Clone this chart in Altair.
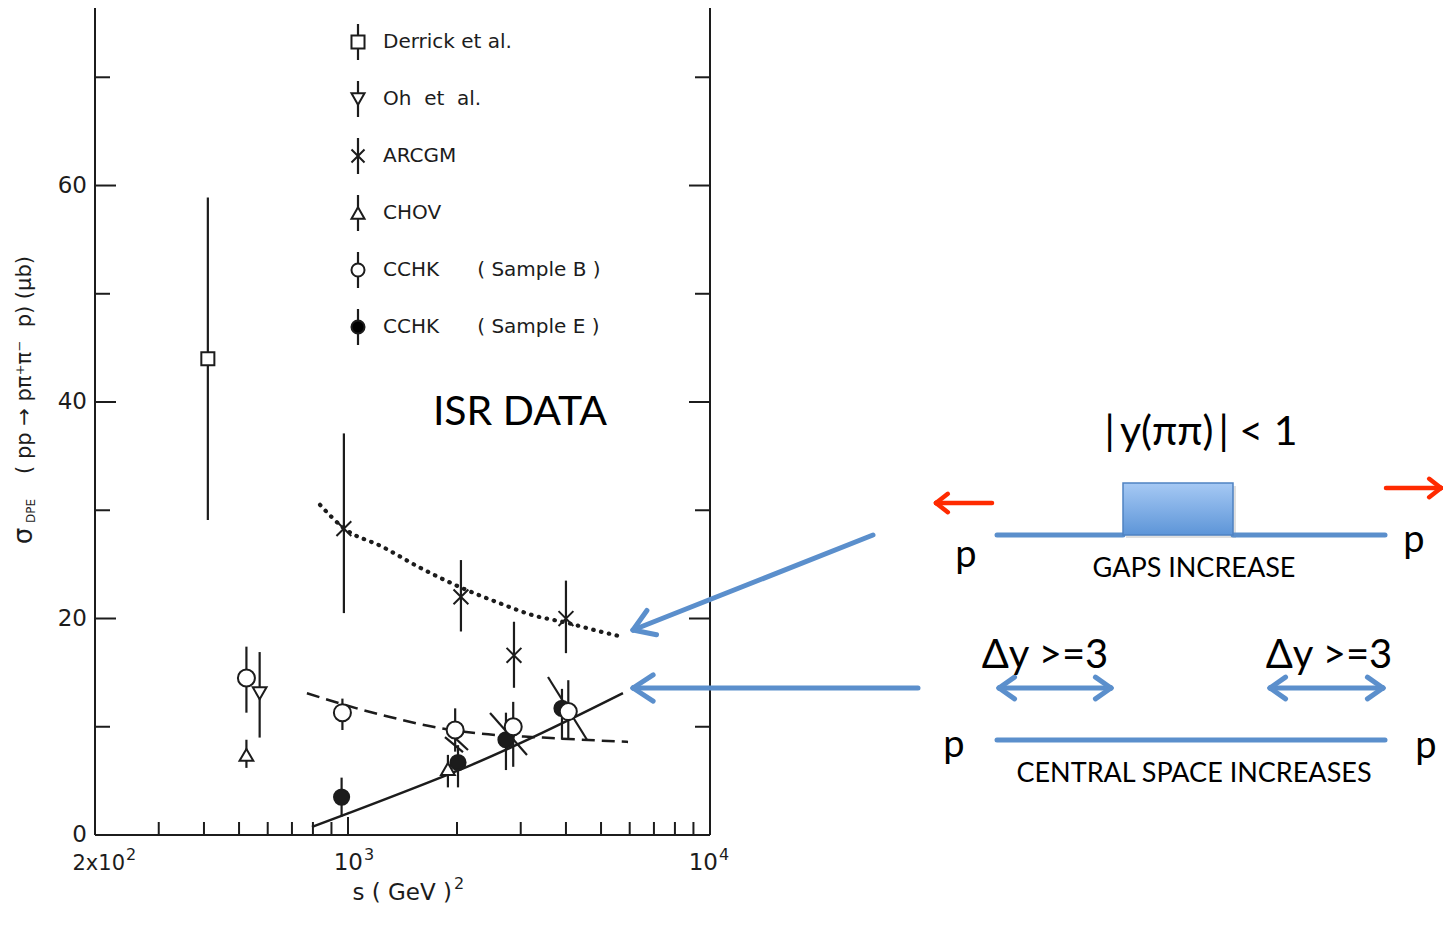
import math
import altair as alt
import pandas as pd

# ---------------- values ----------------
derrick_s = [410]
derrick_sig = [44.0]
derrick_lo = [29.1]
derrick_hi = [58.9]

oh_s = [570]
oh_sig = [13.1]
oh_lo = [9.0]
oh_hi = [16.9]

arcgm_s = [974, 2051, 2874, 4000]
arcgm_sig = [28.3, 22.0, 16.6, 20.0]
arcgm_lo = [20.5, 18.8, 13.6, 16.8]
arcgm_hi = [37.1, 25.4, 19.7, 23.5]

chov_s = [524, 1888]
chov_sig = [7.4, 6.1]
chov_lo = [6.2, 4.4]
chov_hi = [8.8, 7.4]

cchkb_s = [524, 965, 1977, 2860, 4060]
cchkb_sig = [14.5, 11.3, 9.7, 10.0, 11.4]
cchkb_lo = [11.3, 9.7, 7.7, 6.3, 8.8]
cchkb_hi = [17.4, 12.6, 11.7, 12.3, 14.3]

cchke_s = [960, 2013, 2731, 3900]
cchke_sig = [3.5, 6.7, 8.8, 11.7]
cchke_lo = [1.7, 4.4, 6.0, 8.8]
cchke_hi = [5.3, 8.3, 11.3, 13.5]

# slanted bars drawn across some points
slant_s1 = [1853, 1937, 2468, 3568]
slant_sig1 = [9.05, 9.23, 11.27, 14.6]
slant_s2 = [2078, 2145, 3122, 4573]
slant_sig2 = [7.66, 7.85, 7.39, 8.8]

# fitted curves
fit_arcgm_s = [837, 969, 1249, 1580, 2039, 2629, 3243, 4027, 4967, 5748]
fit_arcgm_sig = [30.5, 28.4, 26.6, 24.7, 22.9, 21.4, 20.3, 19.6, 18.8, 18.3]
fit_b_s = [770, 1058, 1306, 1717, 2271, 3456, 5937]
fit_b_sig = [13.1, 11.7, 10.9, 10.0, 9.4, 9.0, 8.6]
fit_e_s = [795, 1000, 1829, 2131, 3044, 5748]
fit_e_sig = [0.74, 2.0, 5.4, 6.3, 8.6, 13.1]

# axis ticks and labels
y_minor_ticks = [10, 30, 50, 70]
y_major_ticks = [20, 40, 60]
x_minor_ticks = [300, 400, 500, 600, 700, 800, 900,
                 2000, 3000, 4000, 5000, 6000, 7000, 8000, 9000]
x_major_ticks = [1000]
y_label_values = [0, 20, 40, 60]
y_label_text = ["0", "20", "40", "60"]
x_label_values = [200, 1000, 10000]
x_label_base = ["2x10", "10", "10"]
x_label_exp = ["2", "3", "4"]

NB = "\u00a0"
legend_labels = ["Derrick et al.", f"Oh{NB*2}et{NB*2}al.", "ARCGM", "CHOV",
                 f"CCHK{NB*6}( Sample B )", f"CCHK{NB*6}( Sample E )"]
legend_shapes = ["square", "triangle-down", "M-1,-1L1,1M-1,1L1,-1",
                 "triangle-up", "circle", "circle"]
legend_fills = ["white", "white", "transparent", "white", "white", "black"]

# ---------------- layout ----------------
W, H = 615, 827          # plot area
OX, OY = 95, 8           # plot origin on the page
INK = "#1c1c1c"
BLUE = "#5b8fcc"
RED = "#ff2a00"
FONT = "DejaVu Sans"

xs = alt.Scale(type="log", domain=[200, 10000], nice=False)
ys = alt.Scale(domain=[0, 76.4], nice=False, zero=False)


def X(f):
    return alt.X(f"{f}:Q", scale=xs, axis=None)


def Y(f):
    return alt.Y(f"{f}:Q", scale=ys, axis=None)


PX = lambda f: alt.X(f"{f}:Q", scale=None, axis=None)
PY = lambda f: alt.Y(f"{f}:Q", scale=None, axis=None)

layers = []
one = pd.DataFrame({"v": [0]})

# frame: left, bottom, right
layers.append(alt.Chart(one).mark_rule(color=INK, strokeWidth=2).encode(
    x=alt.value(0), y=alt.value(0), y2=alt.value(H)))
layers.append(alt.Chart(one).mark_rule(color=INK, strokeWidth=2).encode(
    x=alt.value(W), y=alt.value(0), y2=alt.value(H)))
layers.append(alt.Chart(one).mark_rule(color=INK, strokeWidth=2).encode(
    x=alt.value(0), x2=alt.value(W), y=alt.value(H)))

# inward ticks
for vals, L in ((y_minor_ticks, 15), (y_major_ticks, 21)):
    d = pd.DataFrame({"v": vals})
    layers.append(alt.Chart(d).mark_rule(color=INK, strokeWidth=2).encode(
        y=Y("v"), x=alt.value(0), x2=alt.value(L)))
    layers.append(alt.Chart(d).mark_rule(color=INK, strokeWidth=2).encode(
        y=Y("v"), x=alt.value(W - L), x2=alt.value(W)))
for vals, L in ((x_minor_ticks, 13), (x_major_ticks, 18)):
    d = pd.DataFrame({"v": vals})
    layers.append(alt.Chart(d).mark_rule(color=INK, strokeWidth=2).encode(
        x=X("v"), y=alt.value(H), y2=alt.value(H - L)))

# tick labels
layers.append(alt.Chart(pd.DataFrame({"v": y_label_values, "t": y_label_text}))
              .mark_text(align="right", baseline="middle", font=FONT, fontSize=23, color=INK)
              .encode(y=Y("v"), x=alt.value(-8), text="t:N"))
label_right_dx = [30, 15, 8]   # where each base ends relative to its tick
label_size = [21, 23, 23]
for i in range(len(x_label_values)):
    d = pd.DataFrame({"v": [x_label_values[i]], "b": [x_label_base[i]], "e": [x_label_exp[i]]})
    layers.append(alt.Chart(d).mark_text(align="right", baseline="alphabetic", font=FONT,
                                         fontSize=label_size[i], color=INK, dx=label_right_dx[i])
                  .encode(x=X("v"), y=alt.value(870 - OY), text="b:N"))
    layers.append(alt.Chart(d).mark_text(align="left", baseline="alphabetic", font=FONT,
                                         fontSize=16, color=INK, dx=label_right_dx[i] + 1)
                  .encode(x=X("v"), y=alt.value(860 - OY), text="e:N"))
# x title
layers.append(alt.Chart(one).mark_text(text="s ( GeV )", align="right", baseline="alphabetic",
                                       font=FONT, fontSize=23, color=INK)
              .encode(x=alt.value(452 - OX), y=alt.value(900 - OY)))
layers.append(alt.Chart(one).mark_text(text="2", align="left", baseline="alphabetic",
                                       font=FONT, fontSize=16, color=INK)
              .encode(x=alt.value(454 - OX), y=alt.value(889 - OY)))

# fitted curves
layers.append(alt.Chart(pd.DataFrame({"s": fit_arcgm_s, "sig": fit_arcgm_sig}))
              .mark_line(color=INK, strokeWidth=4.2, strokeDash=[0.5, 7.5], strokeCap="round",
                         interpolate="monotone")
              .encode(x=X("s"), y=Y("sig")))
layers.append(alt.Chart(pd.DataFrame({"s": fit_b_s, "sig": fit_b_sig}))
              .mark_line(color=INK, strokeWidth=2.5, strokeDash=[13, 7], interpolate="monotone")
              .encode(x=X("s"), y=Y("sig")))
layers.append(alt.Chart(pd.DataFrame({"s": fit_e_s, "sig": fit_e_sig}))
              .mark_line(color=INK, strokeWidth=2.5, interpolate="monotone")
              .encode(x=X("s"), y=Y("sig")))

# slanted bars
layers.append(alt.Chart(pd.DataFrame({"s1": slant_s1, "y1": slant_sig1,
                                      "s2": slant_s2, "y2": slant_sig2}))
              .mark_rule(color=INK, strokeWidth=2.2)
              .encode(x=X("s1"), y=Y("y1"), x2="s2:Q", y2="y2:Q"))


def series(s, sig, lo, hi, shape, fill, size, filled=True):
    df = pd.DataFrame({"s": s, "sig": sig, "lo": lo, "hi": hi})
    bars = alt.Chart(df).mark_rule(color=INK, strokeWidth=2.2).encode(
        x=X("s"), y=Y("lo"), y2="hi:Q")
    if filled:
        mk = alt.Chart(df).mark_point(shape=shape, filled=True, fill=fill, stroke=INK,
                                      strokeWidth=2, size=size, opacity=1)
    else:
        mk = alt.Chart(df).mark_point(shape=shape, filled=False, stroke=INK,
                                      strokeWidth=2, size=size, opacity=1)
    return [bars, mk.encode(x=X("s"), y=Y("sig"))]


layers += series(derrick_s, derrick_sig, derrick_lo, derrick_hi, "square", "white", 170)
layers += series(oh_s, oh_sig, oh_lo, oh_hi, "triangle-down", "white", 190)
layers += series(arcgm_s, arcgm_sig, arcgm_lo, arcgm_hi, "M-1,-1L1,1M-1,1L1,-1", None, 220, filled=False)
layers += series(chov_s, chov_sig, chov_lo, chov_hi, "triangle-up", "white", 190)
layers += series(cchke_s, cchke_sig, cchke_lo, cchke_hi, "circle", INK, 230)
layers += series(cchkb_s, cchkb_sig, cchkb_lo, cchkb_hi, "circle", "white", 290)

# ---------------- legend (drawn inside the frame) ----------------
leg_x, leg_y0, leg_dy, txt_x = 358, 42, 57, 383
leg = pd.DataFrame({
    "x": [leg_x - OX] * 6,
    "y": [leg_y0 - OY + i * leg_dy for i in range(6)],
    "tx": [txt_x - OX] * 6,
    "shape": legend_shapes, "fill": legend_fills, "label": legend_labels,
})
leg["y1"] = leg["y"] - 18
leg["y2"] = leg["y"] + 18
layers.append(alt.Chart(leg).mark_rule(color=INK, strokeWidth=2.2).encode(
    x=PX("x"), y=PY("y1"), y2="y2:Q"))
layers.append(alt.Chart(leg).mark_point(filled=True, stroke=INK, strokeWidth=2, size=170, opacity=1)
              .encode(x=PX("x"), y=PY("y"),
                      shape=alt.Shape("shape:N", scale=None, legend=None),
                      fill=alt.Fill("fill:N", scale=None, legend=None)))
layers.append(alt.Chart(leg).mark_text(align="left", baseline="middle", font=FONT,
                                       fontSize=20, color=INK)
              .encode(x=PX("tx"), y=PY("y"), text="label:N"))

# y-axis title (rotated)
ytitle = pd.DataFrame({
    "x": [24 - OX, 31 - OX, 25 - OX],
    "y": [536 - OY, 511 - OY, 365 - OY],
    "t": ["σ", "DPE", f"({NB}pp{NB}→{NB}pπ⁺π⁻{NB}{NB}p){NB}(μb)"],
    "fs": [26, 12, 21],
})
layers.append(alt.Chart(ytitle).mark_text(angle=270, align="center", baseline="middle",
                                          font=FONT, color=INK)
              .encode(x=PX("x"), y=PY("y"), text="t:N",
                      size=alt.Size("fs:Q", scale=None, legend=None)))

# ---------------- schematic on the right ----------------
box = pd.DataFrame({"x1": [1123 - OX], "x2": [1233 - OX], "y1": [483 - OY], "y2": [535 - OY]})
shadow = box + 3
layers.append(alt.Chart(shadow).mark_rect(color="#b8b8b8", opacity=0.45).encode(
    x=PX("x1"), x2="x2:Q", y=PY("y1"), y2="y2:Q"))

segs_blue = []
segs_red = []


def head(segs, tx, ty, fx, fy, L, ang):
    dx, dy = tx - fx, ty - fy
    n = math.hypot(dx, dy)
    ux, uy = dx / n, dy / n
    for sg in (1, -1):
        a = math.radians(ang) * sg
        rx = ux * math.cos(a) - uy * math.sin(a)
        ry = ux * math.sin(a) + uy * math.cos(a)
        segs.append((tx, ty, tx - L * rx, ty - L * ry))


def arrow(segs, fx, fy, tx, ty, L, ang, both=False):
    segs.append((fx, fy, tx, ty))
    head(segs, tx, ty, fx, fy, L, ang)
    if both:
        head(segs, fx, fy, tx, ty, L, ang)


segs_blue.append((997, 535, 1123, 535))
segs_blue.append((1233, 535, 1385, 535))
segs_blue.append((997, 740, 1385, 740))
arrow(segs_blue, 873, 535, 633, 630, 24, 33)
arrow(segs_blue, 918, 688, 633, 688, 24, 33)
arrow(segs_blue, 999, 688, 1111, 688, 19, 35, both=True)
arrow(segs_blue, 1270, 688, 1383, 688, 19, 35, both=True)
arrow(segs_red, 992, 503, 936, 503, 15, 38)
arrow(segs_red, 1386, 488, 1441, 488, 15, 38)


def segdf(segs):
    return pd.DataFrame({"x1": [s[0] - OX for s in segs], "y1": [s[1] - OY for s in segs],
                         "x2": [s[2] - OX for s in segs], "y2": [s[3] - OY for s in segs]})


layers.append(alt.Chart(segdf(segs_blue)).mark_rule(color=BLUE, strokeWidth=5, strokeCap="round")
              .encode(x=PX("x1"), y=PY("y1"), x2="x2:Q", y2="y2:Q"))
layers.append(alt.Chart(segdf(segs_red)).mark_rule(color=RED, strokeWidth=4.5, strokeCap="round")
              .encode(x=PX("x1"), y=PY("y1"), x2="x2:Q", y2="y2:Q"))

grad = {"gradient": "linear", "x1": 0, "y1": 0, "x2": 0, "y2": 1,
        "stops": [{"offset": 0, "color": "#a6c9f4"}, {"offset": 1, "color": "#5d95d8"}]}
layers.append(alt.Chart(box).mark_rect(fill=grad, stroke="#4f83c2", strokeWidth=1.5).encode(
    x=PX("x1"), x2="x2:Q", y=PY("y1"), y2="y2:Q"))

notes = pd.DataFrame({
    "x": [520, 1201, 966, 1414, 954, 1426, 1194, 1045, 1329, 1194],
    "y": [425, 445, 567, 552, 757, 758, 577, 668, 668, 782],
    "t": ["ISR DATA", "|\u2009y(ππ)\u2009| < 1", "p", "p", "p", "p", "GAPS INCREASE",
          "Δy >=3", "Δy >=3", "CENTRAL SPACE INCREASES"],
    "fs": [41, 41, 38, 38, 38, 38, 27, 40, 40, 27],
})
notes["x"] = notes["x"] - OX
notes["y"] = notes["y"] - OY
layers.append(alt.Chart(notes).mark_text(align="center", baseline="alphabetic", font="Lato",
                                         color="black")
              .encode(x=PX("x"), y=PY("y"), text="t:N",
                      size=alt.Size("fs:Q", scale=None, legend=None)))

chart = alt.layer(*layers).properties(
    width=W, height=H,
    padding={"left": OX, "top": OY, "right": 1443 - OX - W, "bottom": 931 - OY - H},
    autosize=alt.AutoSizeParams(type="none"),
    background="white",
).configure_view(stroke=None)

chart.save("out.html", embed_options={"renderer": "svg", "actions": False})
